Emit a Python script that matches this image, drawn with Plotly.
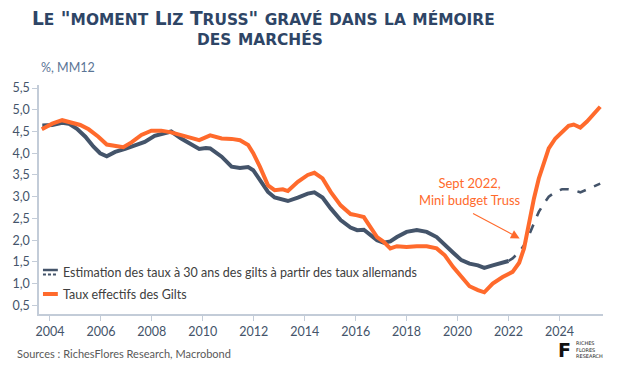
import plotly.graph_objects as go

# ---- data (decimal years, %, 12-month moving average) ----
gilt_years = [2003.68, 2004.09, 2004.48, 2004.8, 2005.19, 2005.52, 2005.9, 2006.23, 2006.56, 2006.88,
              2007.2, 2007.59, 2007.98, 2008.37, 2008.76, 2009.15, 2009.54, 2009.86, 2010.29, 2010.74,
              2011.13, 2011.46, 2011.78, 2011.98, 2012.24, 2012.56, 2012.82, 2013.14, 2013.34, 2013.73,
              2014.12, 2014.38, 2014.7, 2015.02, 2015.41, 2015.8, 2016.06, 2016.32, 2016.58, 2016.84,
              2017.1, 2017.36, 2017.62, 2018.0, 2018.4, 2018.79, 2019.18, 2019.5, 2019.83, 2020.15,
              2020.47, 2020.8, 2021.05, 2021.38, 2021.77, 2022.16, 2022.42, 2022.61, 2022.8, 2023.0,
              2023.19, 2023.39, 2023.58, 2023.84, 2024.1, 2024.36, 2024.56, 2024.82, 2025.08, 2025.33, 2025.6]
gilt_values = [4.55, 4.68, 4.76, 4.72, 4.65, 4.55, 4.38, 4.2, 4.17, 4.14,
               4.25, 4.42, 4.52, 4.52, 4.48, 4.42, 4.36, 4.3, 4.41, 4.34,
               4.33, 4.3, 4.19, 4.0, 3.69, 3.26, 3.15, 3.17, 3.13, 3.34,
               3.5, 3.55, 3.42, 3.11, 2.8, 2.6, 2.57, 2.53, 2.30, 2.07,
               1.96, 1.81, 1.86, 1.84, 1.86, 1.86, 1.81, 1.65, 1.38, 1.15,
               0.94, 0.85, 0.8, 1.0, 1.15, 1.27, 1.48, 1.81, 2.42, 2.96,
               3.42, 3.80, 4.11, 4.34, 4.49, 4.63, 4.66, 4.59, 4.73, 4.89, 5.07]

est_years = [2003.7, 2004.09, 2004.48, 2004.74, 2005.06, 2005.39, 2005.71, 2005.97, 2006.23, 2006.56,
             2006.95, 2007.33, 2007.72, 2008.11, 2008.5, 2008.76, 2009.15, 2009.54, 2009.86, 2010.12,
             2010.29, 2010.74, 2011.13, 2011.46, 2011.78, 2011.98, 2012.24, 2012.56, 2012.82, 2013.14,
             2013.34, 2013.73, 2014.12, 2014.38, 2014.7, 2015.02, 2015.41, 2015.8, 2016.06, 2016.32,
             2016.58, 2016.84, 2017.1, 2017.36, 2017.62, 2018.0, 2018.4, 2018.79, 2019.18, 2019.5,
             2019.83, 2020.15, 2020.47, 2020.8, 2021.05, 2021.38, 2021.77, 2022.0]
est_values = [4.64, 4.65, 4.70, 4.68, 4.56, 4.38, 4.15, 4.0, 3.93, 4.03,
              4.10, 4.17, 4.26, 4.4, 4.47, 4.5, 4.34, 4.22, 4.1, 4.12,
              4.11, 3.92, 3.69, 3.66, 3.68, 3.61, 3.38, 3.11, 2.98, 2.92,
              2.90, 2.98, 3.07, 3.10, 2.98, 2.73, 2.46, 2.29, 2.23, 2.24,
              2.11, 2.0, 1.94, 1.97, 2.07, 2.19, 2.23, 2.19, 2.07, 1.88,
              1.71, 1.54, 1.46, 1.42, 1.36, 1.42, 1.48, 1.52]

proj_years = [2022.0, 2022.16, 2022.42, 2022.61, 2022.8, 2023.0, 2023.19, 2023.39, 2023.58, 2023.84,
              2024.1, 2024.36, 2024.56, 2024.82, 2025.08, 2025.33, 2025.6]
proj_values = [1.52, 1.58, 1.73, 1.88, 2.11, 2.38, 2.65, 2.84, 3.0, 3.11,
               3.17, 3.17, 3.15, 3.10, 3.17, 3.23, 3.30]

x_ticks = [2004, 2006, 2008, 2010, 2012, 2014, 2016, 2018, 2020, 2022, 2024]
y_ticks = [0.5, 1.0, 1.5, 2.0, 2.5, 3.0, 3.5, 4.0, 4.5, 5.0, 5.5]

title_lines = ["Le \"moment Liz Truss\" gravé dans la mémoire", "des marchés"]

# annotation anchor (event)
event_x, event_y = 2022.44, 2.04
event_tail_x, event_tail_y = 2020.55, 2.63

# ---- styles ----
NAVY = "#44546A"
ORANGE = "#FF6A2C"
W, H = 620, 372
L, R, T, B = 34, 17, 85, 58
PW, PH = W - L - R, H - T - B


def px_x(px):
    return (px - L) / PW


def px_y(py):
    return (H - B - py) / PH


def small_caps(s, small):
    out = []
    for ch in s:
        if ch.islower():
            out.append('<span style="font-size:%gpx">%s</span>' % (small, ch.upper()))
        else:
            out.append(ch)
    return "".join(out)


fig = go.Figure()
fig.add_trace(go.Scatter(x=est_years, y=est_values, mode="lines",
                         line=dict(color=NAVY, width=4), showlegend=False, hoverinfo="skip"))
fig.add_trace(go.Scatter(x=proj_years, y=proj_values, mode="lines",
                         line=dict(color=NAVY, width=2.6, dash="dash"), showlegend=False, hoverinfo="skip"))
fig.add_trace(go.Scatter(x=gilt_years, y=gilt_values, mode="lines",
                         line=dict(color=ORANGE, width=4), showlegend=False, hoverinfo="skip"))

axis_col = "#C3CCD8"
fig.update_xaxes(range=[2003.57, 2025.71], tickvals=x_ticks, ticktext=[str(v) for v in x_ticks],
                 showgrid=False, zeroline=False, showline=True, linecolor=axis_col, linewidth=1.5,
                 ticks="outside", ticklen=5, tickcolor=axis_col,
                 tickfont=dict(family="Lato", size=12.5, color=NAVY))
fig.update_yaxes(range=[0.3, 5.57], tickvals=y_ticks, tickformat=".1f",
                 showgrid=False, zeroline=False, showline=True, linecolor=axis_col, linewidth=1.5,
                 ticks="outside", ticklen=5, tickcolor=axis_col,
                 tickfont=dict(family="Lato", size=12.5, color=NAVY))

ann = []
# Title (manual small caps)
TBIG, TSMALL = 18.6, 15.4
title_font = dict(family="DejaVu Sans", size=TBIG, color="#2E4566", weight="bold")
ann.append(dict(text=small_caps(title_lines[0], TSMALL),
                xref="paper", yref="paper", x=px_x(260), y=px_y(18), xanchor="center", yanchor="middle",
                showarrow=False, font=title_font))
ann.append(dict(text=small_caps(title_lines[1], TSMALL),
                xref="paper", yref="paper", x=px_x(257), y=px_y(38), xanchor="center", yanchor="middle",
                showarrow=False, font=title_font))
# unit label
ann.append(dict(text="%, MM12", xref="paper", yref="paper", x=px_x(34), y=px_y(67),
                xanchor="left", yanchor="middle", showarrow=False,
                font=dict(family="Lato", size=12.5, color="#5B7596")))
# event arrow
ann.append(dict(x=event_x, y=event_y, ax=event_tail_x, ay=event_tail_y, axref="x", ayref="y",
                xref="x", yref="y", text="", showarrow=True, arrowhead=2, arrowsize=1.6,
                arrowwidth=1.1, arrowcolor=ORANGE))
ann.append(dict(text="Sept 2022,<br>Mini budget Truss", xref="paper", yref="paper",
                x=px_x(469), y=px_y(191), xanchor="center", yanchor="middle", showarrow=False,
                align="center", font=dict(family="Lato", size=13, color=ORANGE)))
# legend (manual)
leg_font = dict(family="Lato", size=12.5, color="#404040")
ann.append(dict(text="Estimation des taux à 30 ans des gilts à partir des taux allemands",
                xref="paper", yref="paper", x=px_x(56), y=px_y(272), xanchor="left", yanchor="middle",
                showarrow=False, font=leg_font))
ann.append(dict(text="Taux effectifs des Gilts",
                xref="paper", yref="paper", x=px_x(56), y=px_y(294), xanchor="left", yanchor="middle",
                showarrow=False, font=leg_font))
# sources
ann.append(dict(text="Sources : RichesFlores Research, Macrobond", xref="paper", yref="paper",
                x=px_x(10), y=px_y(353), xanchor="left", yanchor="middle", showarrow=False,
                font=dict(family="Lato", size=11, color="#595959")))
# logo
ann.append(dict(text="<b>F</b>", xref="paper", yref="paper", x=px_x(564), y=px_y(350),
                xanchor="center", yanchor="middle", showarrow=False,
                font=dict(family="DejaVu Sans", size=19, color="#111111")))
ann.append(dict(text="RICHES<br>FLORES<br>RESEARCH", xref="paper", yref="paper", x=px_x(574), y=px_y(349),
                xanchor="left", yanchor="middle", showarrow=False, align="left",
                font=dict(family="DejaVu Sans", size=5, color="#222222")))

shapes = [
    dict(type="line", xref="paper", yref="paper", x0=px_x(38), x1=px_x(53), y0=px_y(270), y1=px_y(270),
         line=dict(color=NAVY, width=2.5)),
    dict(type="line", xref="paper", yref="paper", x0=px_x(38), x1=px_x(53), y0=px_y(274.5), y1=px_y(274.5),
         line=dict(color=NAVY, width=2, dash="3px,2px")),
    dict(type="line", xref="paper", yref="paper", x0=px_x(38), x1=px_x(53), y0=px_y(294), y1=px_y(294),
         line=dict(color=ORANGE, width=4)),
]

fig.update_layout(width=W, height=H, margin=dict(l=L, r=R, t=T, b=B),
                  paper_bgcolor="white", plot_bgcolor="white", separators=", ",
                  annotations=ann, shapes=shapes, showlegend=False)

fig.write_html("out.html", config={"displayModeBar": False},
               post_script="document.body.style.margin='0px';")
